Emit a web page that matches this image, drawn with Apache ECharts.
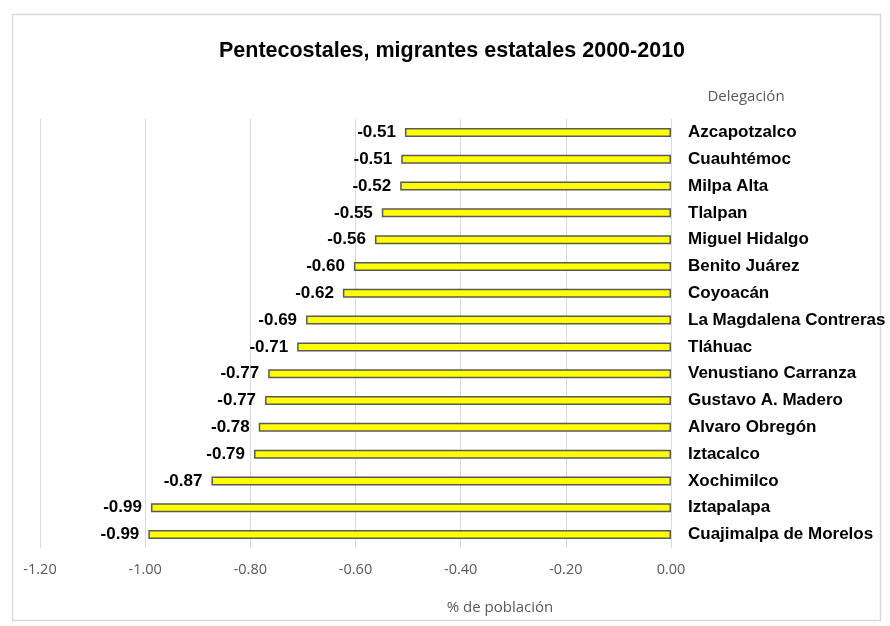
<!DOCTYPE html>
<html><head><meta charset="utf-8">
<script src="https://cdn.jsdelivr.net/npm/echarts@6/dist/echarts.min.js"></script>
<style>html,body{margin:0;padding:0;background:#fff}#c{width:890px;height:626px}</style>
</head><body><div id="c"></div>
<script>
const categories = ["Azcapotzalco","Cuauhtémoc","Milpa Alta","Tlalpan","Miguel Hidalgo","Benito Juárez","Coyoacán","La Magdalena Contreras","Tláhuac","Venustiano Carranza","Gustavo A. Madero","Alvaro Obregón","Iztacalco","Xochimilco","Iztapalapa","Cuajimalpa de Morelos"];
const values = [-0.506,-0.513,-0.515,-0.55,-0.563,-0.603,-0.624,-0.694,-0.711,-0.766,-0.772,-0.784,-0.793,-0.874,-0.989,-0.994];
const xTicks = [-1.2,-1.0,-0.8,-0.6,-0.4,-0.2,0];
const titleText = "Pentecostales, migrantes estatales 2000-2010";
const yName = "Delegación";
const xName = "% de población";

const chart = echarts.init(document.getElementById('c'), null, {renderer:'canvas'});
chart.setOption({
  animation:false,
  backgroundColor:'#fff',
  title:[
    {text:titleText,left:447,top:35,textAlign:'center',textStyle:{fontFamily:'"Liberation Sans", Arial, sans-serif',fontWeight:'bold',fontSize:21.5,color:'#000'}},
    {text:yName,left:741,top:84,textAlign:'center',textStyle:{fontFamily:'"Open Sans", sans-serif',fontWeight:'normal',fontSize:15,color:'#595959'}},
    {text:xName,left:495,top:595,textAlign:'center',textStyle:{fontFamily:'"Open Sans", sans-serif',fontWeight:'normal',fontSize:15,color:'#595959'}}
  ],
  graphic:[{type:'rect',shape:{x:12.5,y:14.5,width:868,height:606},style:{fill:'none',stroke:'#d9d9d9',lineWidth:1.5},silent:true,z:-1}],
  grid:{left:40,right:219,top:119,bottom:78,containLabel:false},
  xAxis:{type:'value',min:xTicks[0],max:xTicks[xTicks.length-1],interval:0.2,
    axisLine:{show:false},axisTick:{show:false},
    axisLabel:{margin:14,fontFamily:'"Open Sans", sans-serif',fontSize:14.5,color:'#595959',formatter:v=>v.toFixed(2)},
    splitLine:{show:true,lineStyle:{color:'#d9d9d9',width:1}}},
  yAxis:{type:'category',data:categories,inverse:true,position:'right',
    axisLine:{show:false},axisTick:{show:false},
    axisLabel:{margin:17,align:'left',fontFamily:'"Liberation Sans", Arial, sans-serif',fontWeight:'bold',fontSize:17,color:'#000'}},
  series:[{type:'bar',data:values,barWidth:9,
    itemStyle:{color:'#ffff00',borderColor:'#595959',borderWidth:1.5},
    label:{show:true,position:'left',distance:9,formatter:p=>p.value.toFixed(2),
      fontFamily:'"Liberation Sans", Arial, sans-serif',fontWeight:'bold',fontSize:17,color:'#000'}}]
});
</script></body></html>
